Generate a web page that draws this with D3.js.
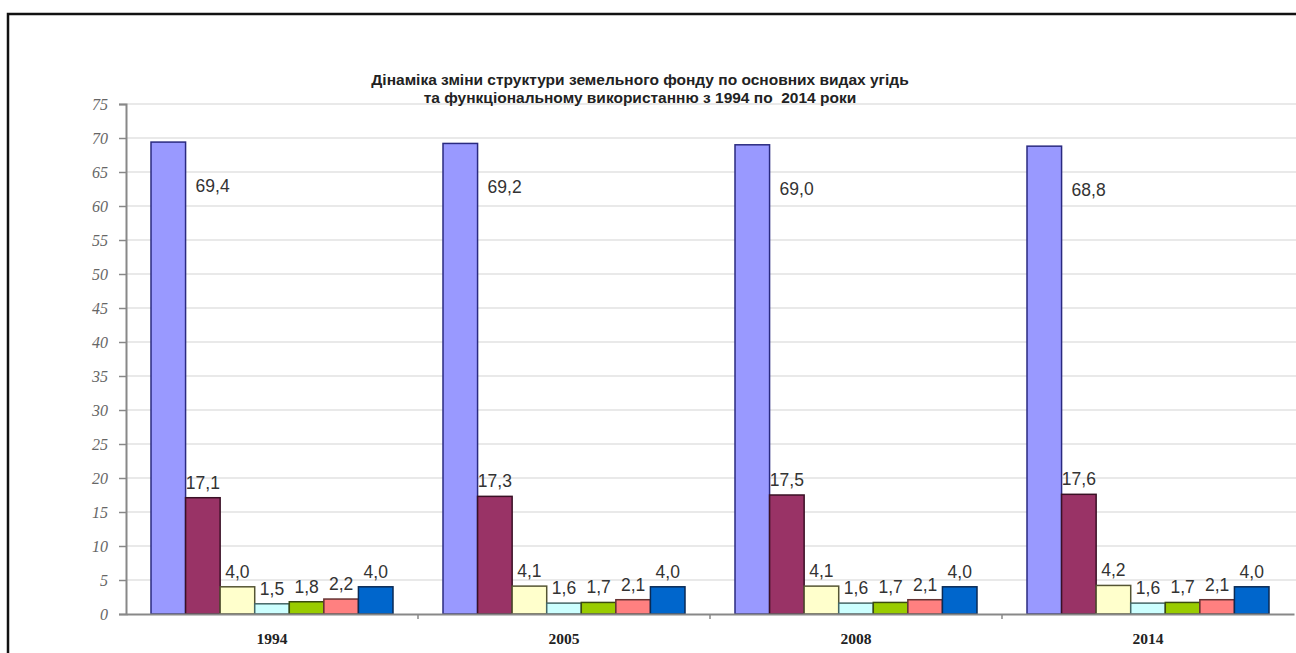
<!DOCTYPE html>
<html>
<head>
<meta charset="utf-8">
<script src="https://cdn.jsdelivr.net/npm/d3@7"></script>
<style>
  html, body { margin: 0; padding: 0; background: #fff; }
  svg { display: block; }
  .title { white-space: pre; }
</style>
</head>
<body>
<svg id="chart" width="1296" height="653"></svg>
<script>
// Years on the category axis
const years = ["1994", "2005", "2008", "2014"];

// Land-fund shares (%) per land type, one value per year
const agricultural = [69.4, 69.2, 69.0, 68.8];
const forest       = [17.1, 17.3, 17.5, 17.6];
const builtUp      = [4.0, 4.1, 4.1, 4.2];
const wetlands     = [1.5, 1.6, 1.6, 1.6];
const openLand     = [1.8, 1.7, 1.7, 1.7];
const otherLand    = [2.2, 2.1, 2.1, 2.1];
const waters       = [4.0, 4.0, 4.0, 4.0];

const seriesList = [agricultural, forest, builtUp, wetlands, openLand, otherLand, waters];
const seriesFill   = ["#9999ff", "#993366", "#ffffcc", "#ccffff", "#99cc00", "#ff8080", "#0066cc"];
const seriesStroke = ["#2a2a80", "#3a1025", "#555533", "#446666", "#3a4a10", "#663333", "#0a2a55"];

// Value axis ticks
const yTicks = [0, 5, 10, 15, 20, 25, 30, 35, 40, 45, 50, 55, 60, 65, 70, 75];

const titleLines = [
  "Дінаміка зміни структури земельного фонду по основних видах угідь",
  "та функціональному використанню з 1994 по  2014 роки"
];

const svg = d3.select("#chart");

const plotLeft = 126, plotRight = 1294, plotTop = 104, plotBottom = 614;

const y = d3.scaleLinear().domain([0, 75]).range([plotBottom, plotTop]);
const x0 = d3.scaleBand().domain(years).range([plotLeft, plotRight]).paddingInner(0).paddingOuter(0);
const groupPad = 25;
const x1 = d3.scaleBand().domain(d3.range(seriesList.length))
  .range([groupPad, x0.bandwidth() - groupPad]).padding(0);

const fmt = v => d3.format(".1f")(v).replace(".", ",");

// Outer frame
svg.append("path")
  .attr("d", `M8,660 L8,14 L1300,14`)
  .attr("fill", "none").attr("stroke", "#111").attr("stroke-width", 2.5);

// Horizontal gridlines
svg.append("g").selectAll("line")
  .data(yTicks.filter(t => t > 0))
  .join("line")
  .attr("x1", plotLeft).attr("x2", 1296)
  .attr("y1", d => y(d)).attr("y2", d => y(d))
  .attr("stroke", "#e2e2e2").attr("stroke-width", 1.5);

// Title
svg.append("text")
  .attr("class", "title")
  .attr("x", 640).attr("y", 85)
  .attr("text-anchor", "middle")
  .attr("font-family", "Liberation Sans, Arial, sans-serif")
  .attr("font-weight", "bold").attr("font-size", 15.5).attr("fill", "#222")
  .selectAll("tspan").data(titleLines).join("tspan")
  .attr("x", 640).attr("dy", (d, i) => i === 0 ? 0 : 17.5)
  .text(d => d);

// Bars
const groups = svg.append("g").selectAll("g")
  .data(years)
  .join("g")
  .attr("transform", d => `translate(${x0(d)},0)`);

groups.selectAll("rect")
  .data((yr, yi) => seriesList.map((s, si) => ({ si, v: s[yi] })))
  .join("rect")
  .attr("x", d => x1(d.si))
  .attr("y", d => y(d.v))
  .attr("width", x1.bandwidth())
  .attr("height", d => y(0) - y(d.v))
  .attr("fill", d => seriesFill[d.si])
  .attr("stroke", d => seriesStroke[d.si])
  .attr("stroke-width", 1.5);

// Value labels
groups.selectAll("text.val")
  .data((yr, yi) => seriesList.map((s, si) => ({ si, v: s[yi] })))
  .join("text")
  .attr("class", "val")
  .attr("font-family", "Liberation Sans, Arial, sans-serif")
  .attr("font-size", 17.5).attr("fill", "#333")
  .attr("text-anchor", d => d.si === 0 ? "start" : "middle")
  .attr("x", d => d.si === 0 ? x1(d.si) + x1.bandwidth() + 10 : x1(d.si) + x1.bandwidth() / 2)
  .attr("y", d => d.si === 0 ? y(d.v) + 50 : y(d.v) - 9)
  .text(d => fmt(d.v));

// Y axis
const yAxis = d3.axisLeft(y).tickValues(yTicks).tickSize(7).tickPadding(11).tickFormat(d3.format("d"));
const gy = svg.append("g").attr("transform", `translate(${plotLeft},0)`).call(yAxis);
gy.select(".domain").attr("stroke", "#888").attr("stroke-width", 2);
gy.selectAll(".tick line").attr("stroke", "#888").attr("stroke-width", 1.5);
gy.selectAll(".tick text")
  .attr("font-family", "Liberation Serif, Times New Roman, serif")
  .attr("font-style", "italic").attr("font-size", 16).attr("fill", "#666");

// X axis
const xAxis = d3.axisBottom(x0).tickSize(0).tickPadding(19);
const gx = svg.append("g").attr("transform", `translate(0,${plotBottom})`).call(xAxis);
gx.select(".domain").attr("stroke", "#888").attr("stroke-width", 2);
gx.selectAll(".tick text")
  .attr("font-family", "Liberation Serif, Times New Roman, serif")
  .attr("font-weight", "bold").attr("font-size", 15.5).attr("fill", "#222");

// Group separator ticks
svg.append("g").selectAll("line")
  .data(years.slice(1))
  .join("line")
  .attr("x1", d => x0(d)).attr("x2", d => x0(d))
  .attr("y1", plotBottom).attr("y2", plotBottom + 5)
  .attr("stroke", "#888").attr("stroke-width", 1.5);
</script>
</body>
</html>
